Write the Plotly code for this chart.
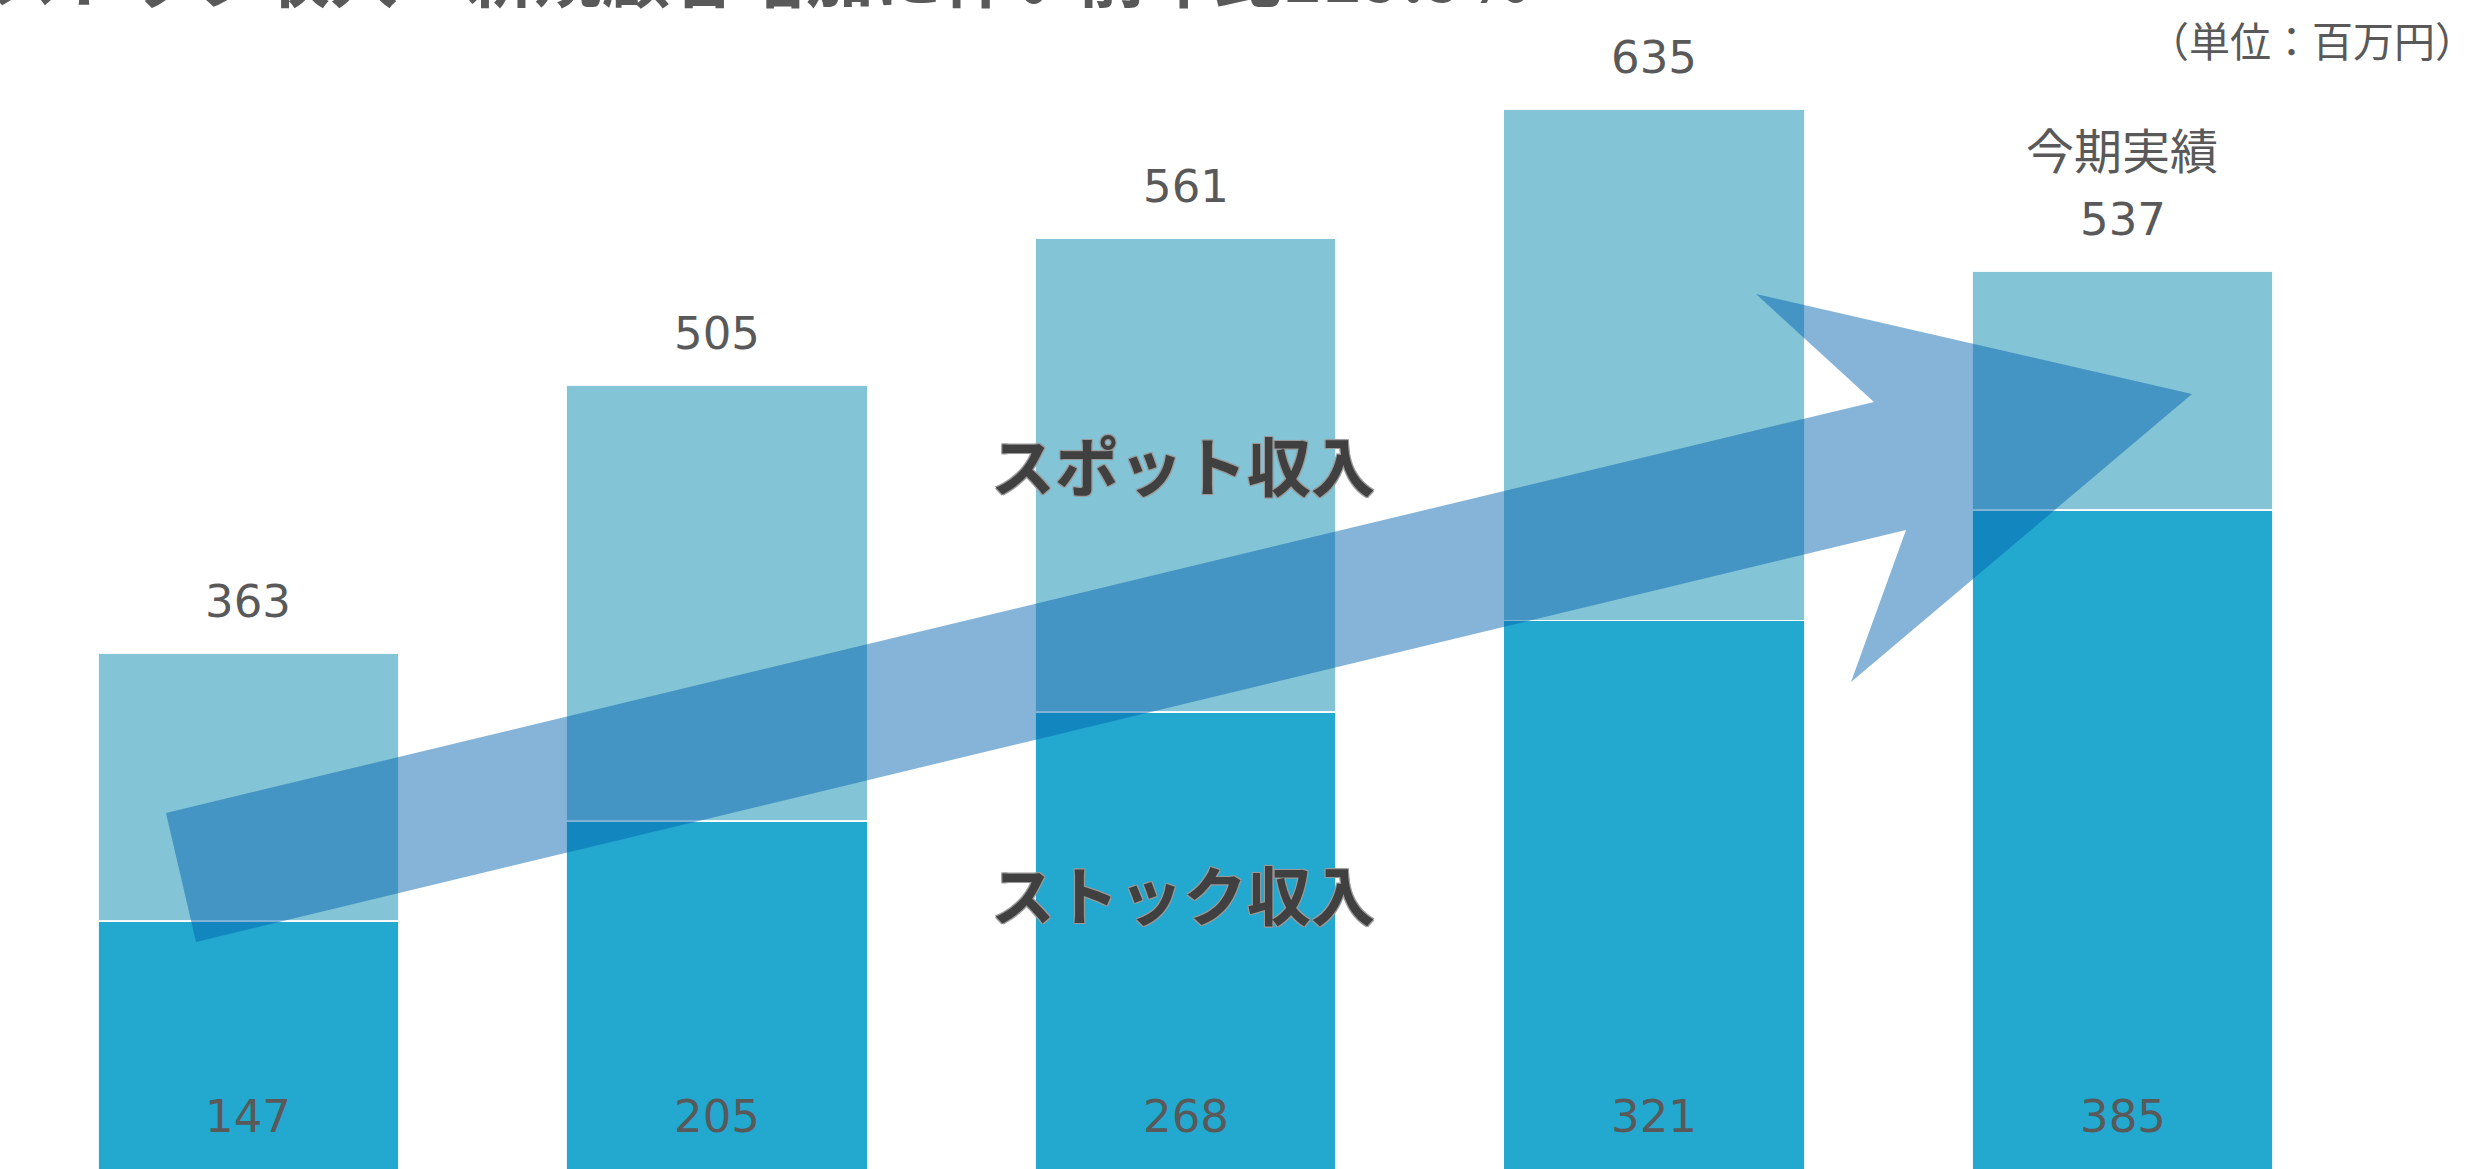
import plotly.graph_objects as go

# ---- data ----
periods = ["第1期", "第2期", "第3期", "第4期", "今期"]
stock_values = [147, 205, 268, 321, 385]          # ストック収入 (dark segment)
spot_drawn = [155, 252, 274, 296, 138]            # スポット収入 segment as drawn
total_labels = ["363", "505", "561", "635", "537"]
stock_labels = ["147", "205", "268", "321", "385"]

title_text = "ストック収入：新規顧客増加に伴い前年比119.9%"
unit_text = "（単位：百万円）"
current_text = "今期実績"

# ---- layout geometry ----
W, H = 2490, 1169
L, R, T, B = 14, 133, 0, 0
PW, PH = W - L - R, H - T - B


def px_x(px):
    return (px - L) / PW


def px_y(py):
    return 1 - (py - T) / PH


STOCK_COLOR = "#23A8CF"
SPOT_COLOR = "#83C4D6"
TEXT_COLOR = "#595959"
NUM_FONT = "DejaVu Sans"
JP_FONT = "Noto Sans CJK JP"

fig = go.Figure()
fig.add_trace(go.Bar(
    x=list(range(len(periods))), y=stock_values, name="ストック収入",
    marker=dict(color=STOCK_COLOR, line=dict(color="rgba(255,255,255,0.9)", width=1.5)),
    hoverinfo="skip",
))
fig.add_trace(go.Bar(
    x=list(range(len(periods))), y=spot_drawn, name="スポット収入",
    marker=dict(color=SPOT_COLOR, line=dict(color="rgba(255,255,255,0.9)", width=1.5)),
    hoverinfo="skip",
))

annotations = []
for i, (s, sp) in enumerate(zip(stock_values, spot_drawn)):
    annotations.append(dict(
        x=i, y=s + sp, xref="x", yref="y", text=total_labels[i],
        showarrow=False, yanchor="middle", yshift=52,
        font=dict(family=NUM_FONT, size=45, color=TEXT_COLOR),
    ))
    annotations.append(dict(
        x=i, y=px_y(1116), xref="x", yref="paper", text=stock_labels[i],
        showarrow=False, yanchor="middle",
        font=dict(family=NUM_FONT, size=45, color=TEXT_COLOR),
    ))

outline = ("-1px -1px 0 #9a9a9a, 1px -1px 0 #9a9a9a, -1px 1px 0 #9a9a9a, "
           "1px 1px 0 #9a9a9a, 0 0 2px #9a9a9a")
annotations += [
    dict(x=px_x(1183), y=px_y(463), xref="paper", yref="paper", text="スポット収入",
         showarrow=False, xanchor="center", yanchor="middle",
         font=dict(family=JP_FONT, size=64, color="#404040", weight="bold", shadow=outline)),
    dict(x=px_x(1183), y=px_y(892), xref="paper", yref="paper", text="ストック収入",
         showarrow=False, xanchor="center", yanchor="middle",
         font=dict(family=JP_FONT, size=64, color="#404040", weight="bold", shadow=outline)),
    dict(x=px_x(2478), y=px_y(39), xref="paper", yref="paper", text=unit_text,
         showarrow=False, xanchor="right", yanchor="middle",
         font=dict(family=JP_FONT, size=41, color=TEXT_COLOR)),
    dict(x=px_x(2122), y=px_y(148), xref="paper", yref="paper", text=current_text,
         showarrow=False, xanchor="center", yanchor="middle",
         font=dict(family=JP_FONT, size=48, color=TEXT_COLOR)),
    dict(x=px_x(1532), y=px_y(-27), xref="paper", yref="paper", text=title_text,
         showarrow=False, xanchor="right", yanchor="middle",
         font=dict(family=JP_FONT, size=68, color="#595959", weight="bold")),
]

# ---- decorative arrow ----
arrow_px = [(166, 813), (1874, 402), (1756, 294), (2192, 394),
            (1851, 682), (1906, 530), (196, 942)]
path = "M " + " L ".join(f"{px_x(x):.5f},{px_y(y):.5f}" for x, y in arrow_px) + " Z"
shapes = [dict(type="path", xref="paper", yref="paper", path=path,
               fillcolor="rgba(0,99,174,0.48)", line=dict(width=0), layer="above")]

y_scale = 1.7277  # px per unit
fig.update_layout(
    width=W, height=H,
    margin=dict(l=L, r=R, t=T, b=B, pad=0),
    barmode="stack", bargap=0.358,
    plot_bgcolor="white", paper_bgcolor="white",
    showlegend=False,
    xaxis=dict(visible=False, range=[-0.5, len(periods) - 0.5]),
    yaxis=dict(visible=False, range=[6 / y_scale, 1175 / y_scale]),
    annotations=annotations, shapes=shapes,
)

fig.write_html("out.html", config={"displayModeBar": False},
               post_script="document.body.style.margin='0';")
